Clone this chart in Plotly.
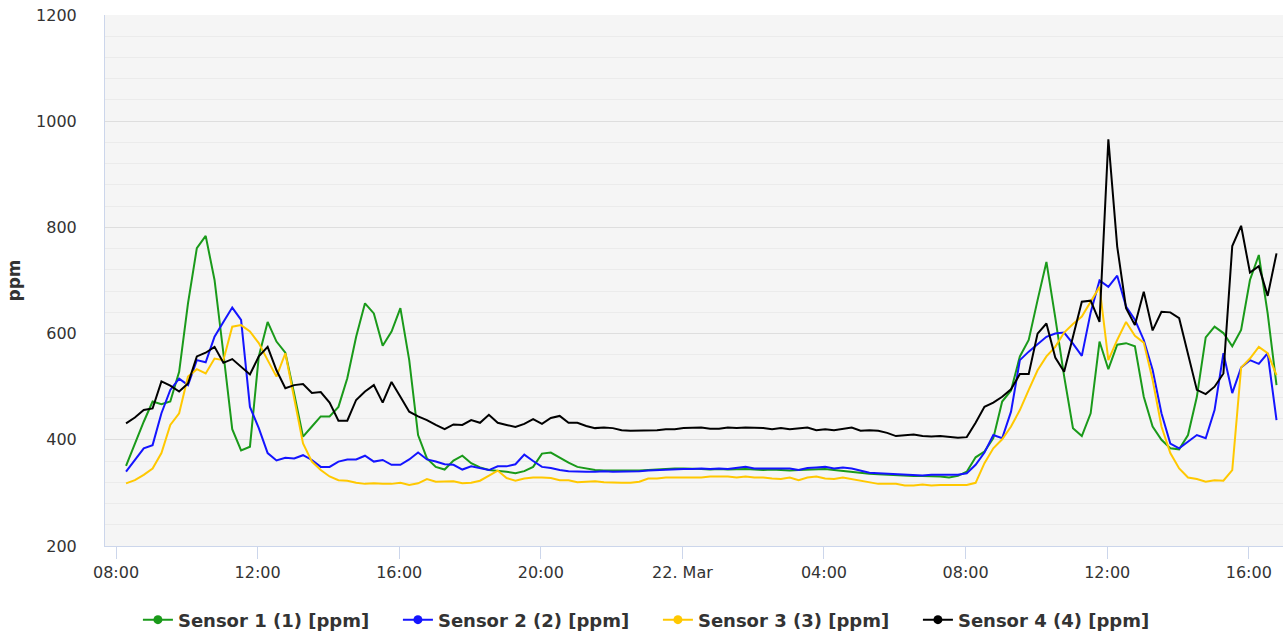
import pandas as pd
import plotly.graph_objects as go

# ---- data (15-minute readings, 21 Mar 08:17 -> 22 Mar 16:47) ----
start_time = "2016-03-21 08:17"
n_points = 131

sensor1 = [351, 393, 434, 472, 467, 472, 528, 657, 761, 784, 701, 563, 420, 380, 387, 557, 622, 585, 564, 487,
           406, 425, 444, 444, 462, 516, 594, 657, 638, 577, 604, 648, 550, 409, 365, 349, 344, 361, 370, 356,
           348, 343, 342, 340, 337, 341, 349, 374, 376, 366, 357, 349, 346, 343, 342, 342, 341, 342, 342, 343,
           344, 346, 346, 346, 346, 345, 344, 345, 344, 345, 345, 344, 343, 344, 343, 342, 343, 344, 345, 345,
           343, 341, 340, 338, 336, 335, 334, 333, 332, 332, 332, 332, 331, 329, 332, 340, 367, 378, 403, 472,
           493, 557, 588, 663, 735, 630, 520, 422, 407, 450, 585, 533, 579, 582, 576, 481, 425, 400, 384, 382,
           409, 481, 593, 613, 601, 576, 607, 701, 748, 638, 503]

sensor2 = [340, 362, 384, 390, 450, 494, 515, 503, 550, 546, 594, 622, 649, 626, 462, 422, 375, 361, 366, 365,
           371, 362, 349, 349, 359, 363, 363, 370, 359, 362, 353, 353, 363, 376, 363, 359, 354, 353, 344, 350,
           347, 343, 350, 350, 354, 372, 360, 349, 347, 343, 341, 340, 340, 340, 341, 340, 340, 340, 341, 342,
           343, 344, 344, 345, 345, 346, 345, 346, 345, 347, 349, 346, 346, 346, 345, 346, 343, 347, 348, 349,
           346, 348, 346, 342, 338, 337, 336, 336, 334, 334, 333, 334, 334, 333, 334, 337, 353, 376, 409, 403,
           453, 550, 566, 580, 594, 600, 602, 581, 558, 640, 700, 688, 709, 651, 626, 588, 532, 450, 393, 384,
           397, 409, 403, 456, 563, 488, 536, 550, 543, 563, 437]

sensor3 = [318, 324, 334, 346, 375, 428, 450, 519, 533, 525, 553, 550, 613, 616, 604, 582, 550, 519, 563, 481,
           393, 359, 343, 331, 324, 323, 319, 317, 318, 317, 317, 319, 315, 318, 326, 321, 321, 322, 318, 319,
           323, 332, 342, 328, 323, 327, 329, 329, 328, 324, 324, 320, 321, 322, 320, 319, 319, 319, 321, 327,
           327, 329, 329, 329, 329, 329, 331, 331, 331, 329, 331, 329, 329, 327, 326, 329, 324, 329, 331, 327,
           326, 329, 326, 322, 319, 317, 317, 317, 314, 314, 316, 314, 315, 315, 315, 315, 319, 356, 384, 401,
           425, 456, 494, 531, 557, 575, 602, 618, 632, 660, 688, 550, 588, 622, 596, 583, 513, 425, 375, 346,
           329, 326, 321, 324, 323, 343, 536, 553, 575, 563, 522]

sensor4 = [431, 442, 456, 459, 510, 502, 491, 506, 557, 564, 575, 545, 552, 538, 523, 557, 575, 531, 497, 503,
           505, 488, 490, 470, 436, 436, 475, 491, 503, 470, 509, 481, 453, 444, 437, 428, 420, 429, 428, 437,
           432, 447, 432, 428, 424, 430, 439, 430, 441, 445, 432, 432, 426, 422, 423, 422, 418, 417, 417, 417,
           418, 420, 420, 422, 423, 423, 421, 421, 423, 422, 423, 423, 422, 420, 422, 420, 422, 423, 418, 420,
           418, 420, 423, 417, 418, 417, 413, 407, 408, 410, 407, 406, 407, 405, 404, 405, 432, 462, 470, 481,
           495, 524, 524, 600, 619, 555, 528, 594, 660, 662, 622, 966, 764, 648, 616, 679, 606, 641, 640, 629,
           563, 494, 486, 500, 525, 765, 803, 715, 727, 671, 751]

series_names = ["Sensor 1 (1) [ppm]", "Sensor 2 (2) [ppm]", "Sensor 3 (3) [ppm]", "Sensor 4 (4) [ppm]"]
series_colors = ["#1a9a1a", "#1414ff", "#ffc800", "#000000"]

tick_times = ["2016-03-21 08:00", "2016-03-21 12:00", "2016-03-21 16:00", "2016-03-21 20:00",
              "2016-03-22 00:00", "2016-03-22 04:00", "2016-03-22 08:00", "2016-03-22 12:00",
              "2016-03-22 16:00"]
tick_labels = ["08:00", "12:00", "16:00", "20:00", "22. Mar", "04:00", "08:00", "12:00", "16:00"]
y_ticks = [200, 400, 600, 800, 1000, 1200]

times = pd.date_range(start=start_time, periods=n_points, freq="15min")

fig = go.Figure()
for name, color, values in zip(series_names, series_colors, [sensor1, sensor2, sensor3, sensor4]):
    fig.add_trace(go.Scatter(x=times, y=values, mode="lines", name=name,
                             line=dict(color=color, width=2), showlegend=False))
    # legend entry (line + marker symbol)
    fig.add_trace(go.Scatter(x=[None], y=[None], mode="lines+markers", name=name,
                             line=dict(color=color, width=2),
                             marker=dict(color=color, size=9, symbol="circle")))

fig.update_layout(
    width=1285, height=632,
    margin=dict(l=105, r=2, t=15, b=86),
    paper_bgcolor="white",
    plot_bgcolor="#f5f5f5",
    font=dict(family="DejaVu Sans", size=16, color="#333333"),
    legend=dict(orientation="h", xref="container", x=0.512, xanchor="center",
                yref="container", y=0.019, yanchor="middle",
                font=dict(family="DejaVu Sans", size=18, color="#333333", weight="bold"),
                entrywidth=215, entrywidthmode="pixels", itemwidth=30),
)

fig.update_xaxes(
    type="date",
    range=["2016-03-21 07:41:20", "2016-03-22 16:58:00"],
    tickmode="array", tickvals=tick_times, ticktext=tick_labels,
    showgrid=False, zeroline=False,
    showline=True, linecolor="#ccd6eb", linewidth=1,
    ticks="outside", ticklen=12, tickcolor="#ccd6eb", tickwidth=1,
    tickfont=dict(size=16, color="#333333"),
)

fig.update_yaxes(
    range=[200, 1200],
    tickmode="array", tickvals=y_ticks,
    showgrid=True, gridcolor="#dedede", gridwidth=1,
    minor=dict(dtick=40, showgrid=True, gridcolor="#ebebeb", gridwidth=1),
    zeroline=False,
    showline=True, linecolor="#ccd6eb", linewidth=1,
    ticks="", ticklabelstandoff=24,
    tickfont=dict(size=16, color="#333333"),
    title=dict(text="<b>ppm</b>", font=dict(size=17, color="#333333"), standoff=11),
)

# remove the default page margin so the figure sits at the window's top-left corner
fig.write_html("out.html", config={"displayModeBar": False},
               post_script="document.body.style.margin='0';")
